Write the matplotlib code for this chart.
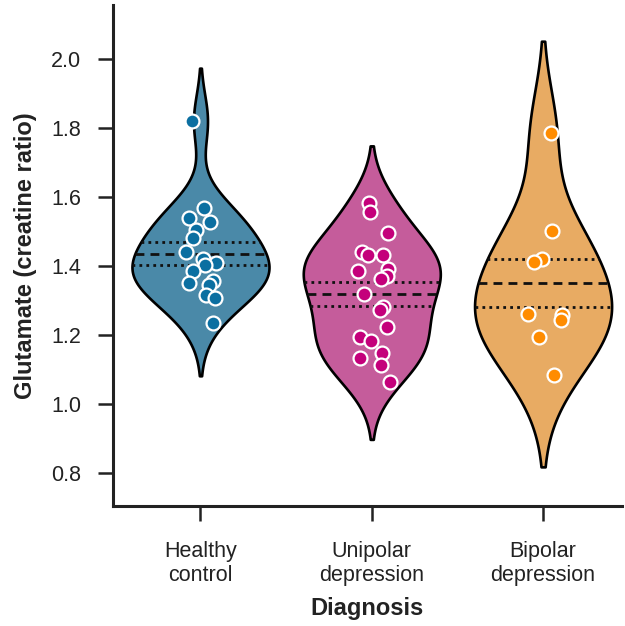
import numpy as np
import matplotlib
matplotlib.use("Agg")
from matplotlib import pyplot as plt

plt.rcParams["font.family"] = ["Liberation Sans", "DejaVu Sans"]

groups = ["Healthy\ncontrol", "Unipolar\ndepression", "Bipolar\ndepression"]

healthy = [1.821, 1.569, 1.538, 1.527, 1.504, 1.482, 1.441, 1.420, 1.408,
           1.403, 1.386, 1.355, 1.351, 1.345, 1.316, 1.306, 1.234]
healthyJitter = [-0.048, 0.023, -0.068, 0.057, -0.029, -0.041, -0.087, 0.013, 0.092,
                 0.029, -0.041, 0.072, -0.068, 0.047, 0.033, 0.082, 0.072]

unipolar = [1.583, 1.555, 1.495, 1.441, 1.432, 1.432, 1.390, 1.386, 1.371, 1.361,
            1.319, 1.282, 1.272, 1.224, 1.195, 1.183, 1.147, 1.132, 1.113, 1.062]
unipolarJitter = [-0.016, -0.008, 0.095, -0.060, -0.022, 0.066, 0.095, -0.080, 0.086, 0.051,
                  -0.047, 0.066, 0.047, 0.089, -0.066, -0.002, 0.062, -0.066, 0.051, 0.109]

bipolar = [1.785, 1.501, 1.420, 1.412, 1.261, 1.258, 1.243, 1.195, 1.084]
bipolarJitter = [0.045, 0.051, -0.008, -0.052, -0.086, 0.113, 0.103, -0.023, 0.064]

violinColors = ["#4a89a8", "#c55c9b", "#e8ab63"]
pointColors = ["#0b6fa1", "#c4007b", "#ff8c00"]

allData = [healthy, unipolar, bipolar]
allJitter = [healthyJitter, unipolarJitter, bipolarJitter]


def kde(values, grid, bw):
    values = np.asarray(values)
    z = (grid[:, None] - values[None, :]) / bw
    return np.exp(-0.5 * z ** 2).sum(axis=1) / (len(values) * bw * np.sqrt(2 * np.pi))


fig = plt.figure(figsize=(6.25, 6.26), dpi=100)
ax = fig.add_axes([0.181, 0.192, 0.814, 0.800])

halfWidth = 0.4
for i, data in enumerate(allData):
    data = np.asarray(data)
    bw = data.std(ddof=1) * len(data) ** (-1 / 5)
    grid = np.linspace(data.min() - 2 * bw, data.max() + 2 * bw, 200)
    dens = kde(data, grid, bw)
    scale = halfWidth / dens.max()
    ax.fill_betweenx(grid, i - dens * scale, i + dens * scale, facecolor=violinColors[i],
                     edgecolor="black", linewidth=1.9, zorder=1)

    # mean (dashed) and mean +/- SEM (dotted)
    mean = data.mean()
    sem = data.std(ddof=1) / np.sqrt(len(data))
    for yv, style in [(mean - sem, (0, (1.0, 1.5))), (mean, (0, (3.2, 2.2))), (mean + sem, (0, (1.0, 1.5)))]:
        w = kde(data, np.array([yv]), bw)[0] * scale
        ax.plot([i - w, i + w], [yv, yv], color="#111111", linewidth=2.0, linestyle=style, zorder=2)

    ax.scatter(i + np.asarray(allJitter[i]), data, s=100, color=pointColors[i],
               edgecolors="white", linewidths=1.6, zorder=3)

ax.set_xlim(-0.51, 2.46)
ax.set_ylim(0.704, 2.157)
ax.set_yticks([0.8, 1.0, 1.2, 1.4, 1.6, 1.8, 2.0])
ax.set_xticks(range(len(groups)))
ax.set_xticklabels(groups)

ax.spines["top"].set_visible(False)
ax.spines["right"].set_visible(False)
for s in ["left", "bottom"]:
    ax.spines[s].set_linewidth(2.2)
    ax.spines[s].set_color("#222222")
ax.tick_params(axis="both", length=11, width=1.8, color="#222222", labelsize=15.5,
               labelcolor="#222222")
ax.tick_params(axis="y", pad=12)
ax.tick_params(axis="x", pad=14)

ax.set_ylabel("Glutamate (creatine ratio)", fontsize=17, fontweight="bold", labelpad=10, color="#222222")
ax.set_xlabel("Diagnosis", fontsize=17, fontweight="bold", labelpad=8, color="#222222")

fig.savefig("out.png", dpi=100)
